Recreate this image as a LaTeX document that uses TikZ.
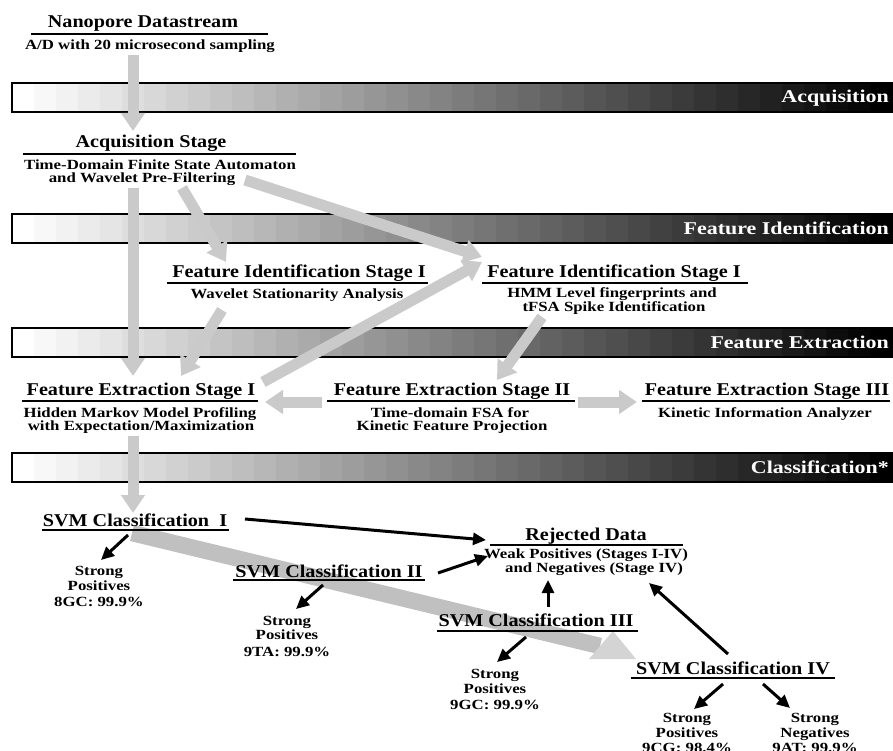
\documentclass[tikz,border=0pt]{standalone}
\usepackage{fontspec}
\setmainfont{Liberation Serif}
\newfontfamily\wfont{Liberation Serif}[FakeStretch=1.12]
\newfontfamily\sfont{Liberation Serif}[FakeStretch=1.2]
\newfontfamily\bfont{Liberation Serif}[FakeStretch=1.22]
\usetikzlibrary{arrows.meta}
\definecolor{arrowgray}{RGB}{202,202,202}
\definecolor{bigshaft}{RGB}{192,192,192}
\definecolor{bighead}{RGB}{212,212,212}
\newcommand\myband[3]{%
  \foreach \i in {0,...,39} {
    \pgfmathsetmacro\p{\i*100/39}
    \fill[black!\p!white] ({12+22*\i},#1) rectangle ({12+22*(\i+1)+0.5},#1+29);
  }
  \draw[line width=1.6pt] (12,#1) rectangle (894,#1+29);
  \node[bandlabel] (#2) at (889,#1+20) {#3};
}
\begin{document}
\begin{tikzpicture}[x=1pt,y=-1pt,
  ttl/.style={font=\wfont\bfseries\fontsize{18}{20}\selectfont, inner sep=0, anchor=base},
  sub/.style={font=\sfont\bfseries\fontsize{14}{15}\selectfont, inner sep=0, anchor=base},
  uline/.style={line width=1.4pt},
  garrow/.style={line width=11pt, draw=arrowgray, line cap=butt, -{Triangle[width=23pt,length=18pt]}},
  barrow/.style={line width=3pt, line cap=butt, -{Triangle[width=12pt,length=13pt]}},
  bandlabel/.style={font=\bfont\bfseries\fontsize{18}{20}\selectfont, text=white, inner sep=0, anchor=base east}
]
\useasboundingbox (0,0) rectangle (893,751);

% bands
\myband{83}{bandacq}{Acquisition}
\myband{214}{bandfi}{Feature Identification}
\myband{328}{bandfe}{Feature Extraction}
\myband{453}{bandcl}{Classification*}

% gray arrow end points
\coordinate (g1s) at (133,55);  \coordinate (g1e) at (133,131);
\coordinate (g2s) at (133,188); \coordinate (g2e) at (133,376);
\coordinate (g3s) at (182,188); \coordinate (g3e) at (226,262);
\coordinate (g4s) at (245,180); \coordinate (g4e) at (482,257);
\coordinate (g5s) at (222,310); \coordinate (g5e) at (181,376);
\coordinate (g6s) at (263,382); \coordinate (g6e) at (482,262);
\coordinate (g7s) at (542,317); \coordinate (g7e) at (497,380);
\coordinate (g8s) at (322,402); \coordinate (g8e) at (265,402);
\coordinate (g9s) at (578,402); \coordinate (g9e) at (637,402);
\coordinate (g10s) at (133,436); \coordinate (g10e) at (133,513);

\draw[garrow] (g1s) -- (g1e);
\draw[garrow] (g2s) -- (g2e);
\draw[garrow] (g3s) -- (g3e);
\draw[garrow] (g4s) -- (g4e);
\draw[garrow] (g5s) -- (g5e);
\draw[garrow] (g6s) -- (g6e);
\draw[garrow] (g7s) -- (g7e);
\draw[garrow] (g8s) -- (g8e);
\draw[garrow] (g9s) -- (g9e);
\draw[garrow] (g10s) -- (g10e);

% big gray arrow (SVM I -> SVM IV)
\fill[bigshaft] (134,525) -- (602,638) -- (598,654) -- (130,541) -- cycle;
\fill[bighead] (589,659) -- (636,659) -- (613,631) -- cycle;

% texts
\node[ttl] (nano) at (143,28) {Nanopore Datastream};
\draw[uline] (31,34) -- (268,34);
\node[sub] (nanosub) at (150,50) {A/D with 20 microsecond sampling};

\node[ttl] (acq) at (151,148) {Acquisition Stage};
\draw[uline] (23,154) -- (296,154);
\node[sub] (acqs1) at (160,170) {Time-Domain Finite State Automaton};
\node[sub] (acqs2) at (142,183) {and Wavelet Pre-Filtering};

\node[ttl] (fil) at (299,277) {Feature Identification Stage I};
\draw[uline] (167,283) -- (428,283);
\node[sub] (fils) at (297,298) {Wavelet Stationarity Analysis};

\node[ttl] (fir) at (614,277) {Feature Identification Stage I};
\draw[uline] (482,283) -- (748,283);
\node[sub] (firs1) at (612,297) {HMM Level fingerprints and};
\node[sub] (firs2) at (614,311) {tFSA Spike Identification};

\node[ttl] (fe1) at (141,395) {Feature Extraction Stage I};
\draw[uline] (22,401) -- (258,401);
\node[sub] (fe1s1) at (140,417) {Hidden Markov Model Profiling};
\node[sub] (fe1s2) at (141,430) {with Expectation/Maximization};

\node[ttl] (fe2) at (452,395) {Feature Extraction Stage II};
\draw[uline] (327,401) -- (575,401);
\node[sub] (fe2s1) at (450,417) {Time-domain FSA for};
\node[sub] (fe2s2) at (452,430) {Kinetic Feature Projection};

\node[ttl] (fe3) at (767,395) {Feature Extraction Stage III};
\draw[uline] (642,401) -- (890,401);
\node[sub] (fe3s1) at (765,417) {Kinetic Information Analyzer};

\node[ttl] (svm1) at (135,526) {SVM Classification\ \ I};
\draw[uline] (42,530) -- (229,530);

\node[ttl] (rej) at (586,540) {Rejected Data};
\draw[uline] (490,545) -- (683,545);
\node[sub] (rejs1) at (586,558) {Weak Positives (Stages I-IV)};
\node[sub] (rejs2) at (594,572) {and Negatives (Stage IV)};

\node[sub] (p1a) at (99,575) {Strong};
\node[sub] (p1b) at (99,590) {Positives};
\node[sub] (p1c) at (99,606) {8GC: 99.9\%};

\node[ttl] (svm2) at (329,577) {SVM Classification II};
\draw[uline] (233,580) -- (425,580);

\node[sub] (p2a) at (287,625) {Strong};
\node[sub] (p2b) at (287,639) {Positives};
\node[sub] (p2c) at (287,656) {9TA: 99.9\%};

\node[ttl] (svm3) at (536,626) {SVM Classification III};
\draw[uline] (437,631) -- (638,631);

\node[sub] (p3a) at (495,678) {Strong};
\node[sub] (p3b) at (495,693) {Positives};
\node[sub] (p3c) at (495,709) {9GC: 99.9\%};

\node[ttl] (svm4) at (733,674) {SVM Classification IV};
\draw[uline] (631,678) -- (835,678);

\node[sub] (p4a) at (687,722) {Strong};
\node[sub] (p4b) at (687,737) {Positives};
\node[sub] (p4c) at (687,752) {9CG: 98.4\%};

\node[sub] (n4a) at (815,722) {Strong};
\node[sub] (n4b) at (815,737) {Negatives};
\node[sub] (n4c) at (815,752) {9AT: 99.9\%};

% black arrow end points
\coordinate (b1s) at (245,519); \coordinate (b1e) at (486,540);
\coordinate (b2s) at (128,535); \coordinate (b2e) at (101,560);
\coordinate (b3s) at (438,573); \coordinate (b3e) at (488,556);
\coordinate (b4s) at (323,585); \coordinate (b4e) at (296,609);
\coordinate (b5s) at (548,607); \coordinate (b5e) at (548,580);
\coordinate (b6s) at (526,637); \coordinate (b6e) at (497,662);
\coordinate (b7s) at (728,654); \coordinate (b7e) at (649,583);
\coordinate (b8s) at (723,684); \coordinate (b8e) at (694,709);
\coordinate (b9s) at (763,684); \coordinate (b9e) at (790,708);

\draw[barrow] (b1s) -- (b1e);
\draw[barrow] (b2s) -- (b2e);
\draw[barrow] (b3s) -- (b3e);
\draw[barrow] (b4s) -- (b4e);
\draw[barrow] (b5s) -- (b5e);
\draw[barrow] (b6s) -- (b6e);
\draw[barrow] (b7s) -- (b7e);
\draw[barrow] (b8s) -- (b8e);
\draw[barrow] (b9s) -- (b9e);
\end{tikzpicture}
\end{document}
